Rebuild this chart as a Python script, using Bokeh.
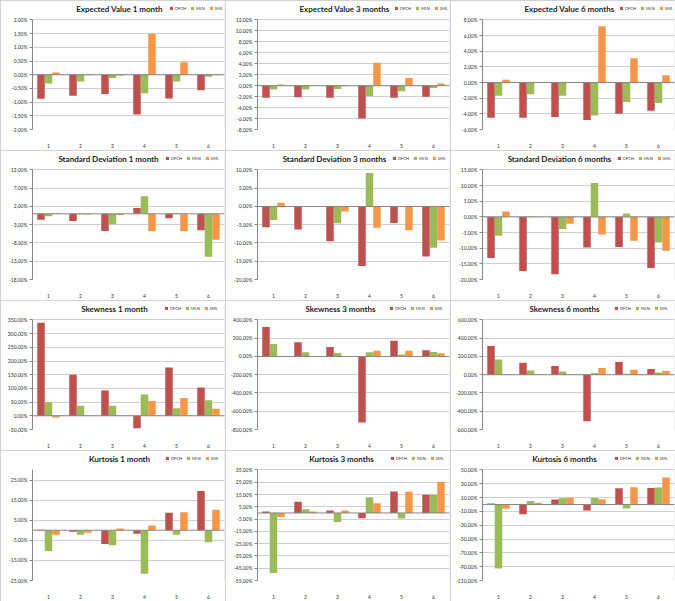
from bokeh.plotting import figure
from bokeh.models import (Range1d, FixedTicker, CustomJSTickFormatter, Span,
                          Legend, LegendItem, ColumnDataSource, Label)
from bokeh.layouts import gridplot
from bokeh.transform import dodge
from bokeh.embed import file_html
from bokeh.resources import INLINE

categories = [1, 2, 3, 4, 5, 6]
series_names = ["DFCH", "MLN", "SML"]

# Expected Value 1 month
ev1_dfch = [-0.88, -0.77, -0.70, -1.45, -0.87, -0.57]
ev1_mln = [-0.32, -0.25, -0.12, -0.68, -0.25, -0.07]
ev1_sml = [0.08, -0.02, -0.03, 1.50, 0.46, -0.02]
ev1_ticks = [-2.0, -1.5, -1.0, -0.5, 0.0, 0.5, 1.0, 1.5, 2.0]

# Expected Value 3 months
ev3_dfch = [-2.2, -2.1, -2.2, -6.0, -2.2, -2.0]
ev3_mln = [-0.7, -0.7, -0.6, -1.9, -1.0, -0.4]
ev3_sml = [0.2, 0.02, -0.1, 4.2, 1.4, 0.4]
ev3_ticks = [-8, -6, -4, -2, 0, 2, 4, 6, 8, 10, 12]

# Expected Value 6 months
ev6_dfch = [-4.5, -4.5, -4.4, -4.8, -4.0, -3.6]
ev6_mln = [-1.7, -1.5, -1.7, -4.2, -2.5, -2.6]
ev6_sml = [0.35, 0.05, 0.0, 7.2, 3.1, 0.95]
ev6_ticks = [-6, -4, -2, 0, 2, 4, 6, 8]

# Standard Deviation 1 month
sd1_dfch = [-1.6, -2.0, -4.7, 1.6, -1.2, -4.5]
sd1_mln = [-0.7, -0.2, -2.9, 4.8, 0.2, -11.8]
sd1_sml = [0.2, -0.2, -0.3, -4.7, -4.7, -7.1]
sd1_ticks = [-18, -13, -8, -3, 2, 7, 12]

# Standard Deviation 3 months
sd3_dfch = [-5.7, -6.3, -9.5, -16.3, -4.5, -13.7]
sd3_mln = [-3.7, 0.0, -4.6, 9.2, 0.0, -11.3]
sd3_sml = [1.0, 0.05, -1.4, -5.8, -6.5, -9.3]
sd3_ticks = [-20, -15, -10, -5, 0, 5, 10]

# Standard Deviation 6 months
sd6_dfch = [-13.1, -17.3, -18.3, -9.8, -9.6, -16.3]
sd6_mln = [-6.0, 0.1, -3.9, 10.8, 1.1, -8.2]
sd6_sml = [1.7, 0.0, -2.2, -5.6, -7.6, -10.8]
sd6_ticks = [-20, -15, -10, -5, 0, 5, 10, 15]

# Skewness 1 month
sk1_dfch = [340, 150, 92, -45, 176, 103]
sk1_mln = [50, 37, 37, 78, 28, 57]
sk1_sml = [-6, 0, -1, 54, 65, 26]
sk1_ticks = [-50, 0, 50, 100, 150, 200, 250, 300, 350]

# Skewness 3 months
sk3_dfch = [322, 156, 103, -722, 173, 67]
sk3_mln = [138, 46, 39, 46, 21, 50]
sk3_sml = [-5, 3, 0, 64, 64, 35]
sk3_ticks = [-800, -600, -400, -200, 0, 200, 400]

# Skewness 6 months
sk6_dfch = [316, 130, 95, -509, 140, 63]
sk6_mln = [168, 46, 35, 18, 10, 25]
sk6_sml = [-3, 0, 0, 74, 56, 42]
sk6_ticks = [-600, -400, -200, 0, 200, 400, 600]

# Kurtosis 1 month
ku1_dfch = [0.2, -0.8, -6.8, -1.7, 8.7, 19.5]
ku1_mln = [-10.3, -2.2, -7.4, -21.7, -2.2, -6.0]
ku1_sml = [-2.2, -1.2, 0.9, 2.4, 9.0, 10.2]
ku1_ticks = [-25, -15, -5, 5, 15, 25]

# Kurtosis 3 months
ku3_dfch = [1.2, 9.2, 2.0, -4.4, 17.4, 14.8]
ku3_mln = [-48.8, 3.1, -7.3, 12.7, -4.6, 14.8]
ku3_sml = [-3.3, 1.2, 2.0, 7.9, 17.2, 25.4]
ku3_ticks = [-55, -45, -35, -25, -15, -5, 5, 15, 25, 35]

# Kurtosis 6 months
ku6_dfch = [1.4, -14.2, 7.1, -8.5, 23.6, 24.0]
ku6_mln = [-92.5, 5.2, 9.0, 9.4, -5.7, 24.5]
ku6_sml = [-6.1, 2.4, 9.9, 7.5, 25.0, 39.0]
ku6_ticks = [-110, -90, -70, -50, -30, -10, 10, 30, 50]

COLORS = ["#C0504D", "#9BBB59", "#F79646"]
FONT = "Lato"
BAR_W = 0.234

W = 225
B_RIGHT, B_TOP, B_BOTTOM = 1, 3, 17
PLOT_TOP = 20          # where the top tick sits, from the panel's top
TITLE_Y = 12           # title/legend row centre, from the panel's top
LEGEND_X = 164         # legend left, from the panel's left


def make_panel(title, dfch, mln, sml, ticks, ymin, ymax, height=150,
               title_cx=114, left=27):
    frame_h = height - B_TOP - B_BOTTOM
    region_h = height - PLOT_TOP - B_BOTTOM
    ext = (ymax - ymin) * (PLOT_TOP - B_TOP) / region_h

    src = ColumnDataSource(dict(cat=categories, DFCH=dfch, MLN=mln, SML=sml))
    p = figure(width=W, height=height, x_range=Range1d(0.5, 6.5),
               y_range=Range1d(ymin, ymax + ext), output_backend="svg",
               toolbar_location=None, title_location=None,
               min_border_left=left, min_border_right=B_RIGHT,
               min_border_top=B_TOP, min_border_bottom=B_BOTTOM)
    p.outline_line_color = None
    p.background_fill_color = "white"
    p.border_fill_color = "white"
    p.styles = {"outline": "1px solid #c4c4c4", "outline-offset": "-1px"}

    renderers = []
    for name, off, col in zip(series_names, [-BAR_W, 0, BAR_W], COLORS):
        r = p.vbar(x=dodge("cat", off), top=name, bottom=0, width=BAR_W,
                   source=src, fill_color=col, line_color=None)
        renderers.append(r)

    p.add_layout(Span(location=0, dimension="width", line_color="#868686", line_width=1))

    p.xgrid.visible = False
    p.ygrid.ticker = FixedTicker(ticks=ticks)
    p.ygrid.grid_line_color = "#d0d0d0"

    ya = p.yaxis[0]
    ya.ticker = FixedTicker(ticks=ticks)
    ya.bounds = (ymin, ymax)
    ya.formatter = CustomJSTickFormatter(code="return tick.toFixed(2).replace('.', ',') + '%';")
    ya.axis_line_color = "#868686"
    ya.major_tick_line_color = "#868686"
    ya.major_tick_out = 3
    ya.major_tick_in = 0
    ya.minor_tick_line_color = None
    ya.major_label_text_font = FONT
    ya.major_label_text_font_size = "5px"
    ya.major_label_text_color = "#303030"
    ya.major_label_standoff = 2

    xa = p.xaxis[0]
    xa.ticker = FixedTicker(ticks=categories)
    xa.axis_line_color = None
    xa.major_tick_line_color = None
    xa.minor_tick_line_color = None
    xa.major_label_text_font = FONT
    xa.major_label_text_font_size = "5px"
    xa.major_label_text_color = "#303030"
    xa.major_label_standoff = 8

    p.add_layout(Label(x=title_cx - left, y=frame_h - (TITLE_Y - B_TOP),
                       x_units="screen", y_units="screen", text=title,
                       text_align="center", text_baseline="middle",
                       text_font=FONT, text_font_style="bold",
                       text_font_size="8px", text_color="#1a1a1a"))

    legend = Legend(items=[LegendItem(label=n, renderers=[r]) for n, r in zip(series_names, renderers)],
                    orientation="horizontal",
                    location=(LEGEND_X - left, frame_h - (TITLE_Y + 2.5 - B_TOP)),
                    glyph_width=4, glyph_height=4, label_width=4, label_height=5,
                    label_text_font=FONT, label_text_font_size="4px",
                    label_text_color="#303030", label_standoff=2, spacing=4,
                    padding=0, margin=0, border_line_color=None,
                    background_fill_alpha=0)
    p.add_layout(legend)
    return p


panels = [
    [make_panel("Expected Value 1 month", ev1_dfch, ev1_mln, ev1_sml, ev1_ticks, -2, 2, left=27),
     make_panel("Expected Value 3 months", ev3_dfch, ev3_mln, ev3_sml, ev3_ticks, -8, 12, left=27),
     make_panel("Expected Value 6 months", ev6_dfch, ev6_mln, ev6_sml, ev6_ticks, -6, 8, left=27)],
    [make_panel("Standard Deviation 1 month", sd1_dfch, sd1_mln, sd1_sml, sd1_ticks, -18, 12, title_cx=107, left=31),
     make_panel("Standard Deviation 3 months", sd3_dfch, sd3_mln, sd3_sml, sd3_ticks, -20, 10, title_cx=106, left=29),
     make_panel("Standard Deviation 6 months", sd6_dfch, sd6_mln, sd6_sml, sd6_ticks, -20, 15, title_cx=106, left=29)],
    [make_panel("Skewness 1 month", sk1_dfch, sk1_mln, sk1_sml, sk1_ticks, -50, 350, left=32),
     make_panel("Skewness 3 months", sk3_dfch, sk3_mln, sk3_sml, sk3_ticks, -800, 400, title_cx=115, left=32),
     make_panel("Skewness 6 months", sk6_dfch, sk6_mln, sk6_sml, sk6_ticks, -600, 600, left=32)],
    [make_panel("Kurtosis 1 month", ku1_dfch, ku1_mln, ku1_sml, ku1_ticks, -25, 30, 151, title_cx=118, left=31),
     make_panel("Kurtosis 3 months", ku3_dfch, ku3_mln, ku3_sml, ku3_ticks, -55, 35, 151, title_cx=115, left=31),
     make_panel("Kurtosis 6 months", ku6_dfch, ku6_mln, ku6_sml, ku6_ticks, -110, 50, 151, left=32)],
]

grid = gridplot(panels, toolbar_location=None)

open("out.html", "w").write(file_html(grid, INLINE))
